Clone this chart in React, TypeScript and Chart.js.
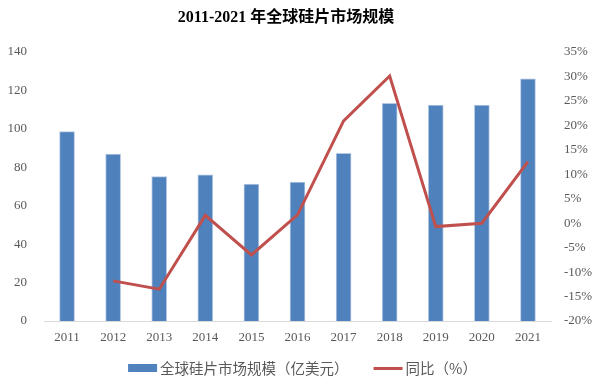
import React, { useEffect, useRef } from "react";
import { Chart, registerables } from "chart.js";

Chart.register(...registerables);

const categories = ["2011", "2012", "2013", "2014", "2015", "2016", "2017", "2018", "2019", "2020", "2021"];
const marketSize = [98.6, 86.9, 75.1, 76.1, 71.3, 72.3, 87.3, 113.3, 112.4, 112.4, 126.1];
const yoyGrowth = [null, -11.8, -13.5, 1.6, -6.5, 1.7, 20.9, 30.1, -0.7, 0.0, 12.6];
const barLabel = "全球硅片市场规模（亿美元）";
const lineLabel = "同比（%）";
const titleText = "2011-2021 年全球硅片市场规模";

const SERIF = "'Liberation Serif', 'Times New Roman', 'Noto Sans CJK SC', serif";
const SANS = "'Noto Sans CJK SC', 'Noto Sans', sans-serif";
const GRAY = "#595959";
const BLUE = "#4f81bd";
const RED = "#c0504d";

// Title (slightly left of centre, as in the source) and bottom legend
const chartDecor = {
  id: "chartDecor",
  afterDraw(chart: any) {
    const ctx = chart.ctx as CanvasRenderingContext2D;
    ctx.save();
    // title
    ctx.font = `bold 16px ${SERIF}`;
    ctx.fillStyle = "#000";
    ctx.textAlign = "center";
    ctx.textBaseline = "middle";
    ctx.fillText(titleText, (chart.width - 33) / 2, 17.5);

    // legend
    const items = [
      { text: barLabel, kind: "rect", color: BLUE },
      { text: lineLabel, kind: "line", color: RED },
    ];
    const symW = 29;
    const symGap = 3;
    const itemGap = 25;
    ctx.font = `14.5px ${SANS}`;
    const widths = items.map((it) => ctx.measureText(it.text).width);
    const total =
      widths.reduce((a, w) => a + symW + symGap + w, 0) + itemGap * (items.length - 1);
    let x = chart.width / 2 - total / 2;
    const y = chart.chartArea.bottom + 47;
    items.forEach((it, i) => {
      if (it.kind === "rect") {
        ctx.fillStyle = it.color;
        ctx.fillRect(x, y - 4, symW, 8);
      } else {
        ctx.strokeStyle = it.color;
        ctx.lineWidth = 3;
        ctx.lineCap = "butt";
        ctx.beginPath();
        ctx.moveTo(x, y + 0.5);
        ctx.lineTo(x + symW, y + 0.5);
        ctx.stroke();
      }
      x += symW + symGap;
      ctx.fillStyle = GRAY;
      ctx.textAlign = "left";
      ctx.textBaseline = "middle";
      ctx.fillText(it.text, x, y);
      x += widths[i] + itemGap;
    });
    ctx.restore();
  },
};

export default function App() {
  const ref = useRef<HTMLCanvasElement | null>(null);

  useEffect(() => {
    if (!ref.current) return;
    const chart = new Chart(ref.current, {
      data: {
        labels: categories,
        datasets: [
          {
            type: "line",
            label: lineLabel,
            data: yoyGrowth as any,
            yAxisID: "y1",
            borderColor: RED,
            backgroundColor: RED,
            borderWidth: 3,
            pointRadius: 0,
            tension: 0,
            spanGaps: false,
            order: 0,
          },
          {
            type: "bar",
            label: barLabel,
            data: marketSize,
            yAxisID: "y",
            backgroundColor: BLUE,
            borderColor: "#b4c8e4",
            borderWidth: 1,
            borderSkipped: "bottom",
            barThickness: 15,
            order: 1,
          },
        ],
      },
      plugins: [chartDecor],
      options: {
        animation: false,
        responsive: false,
        maintainAspectRatio: false,
        layout: { padding: { left: 0, right: 0, top: 52, bottom: 36 } },
        plugins: {
          tooltip: { enabled: false },
          legend: { display: false },
          title: { display: false },
        },
        scales: {
          x: {
            offset: true,
            grid: { display: false, drawTicks: false },
            border: { display: true, color: "#d9d9d9", width: 1 },
            ticks: {
              color: GRAY,
              font: { family: SERIF, size: 13 },
              padding: 9,
              maxRotation: 0,
              autoSkip: false,
            },
            afterFit: (s: any) => {
              s.height = 29;
            },
          },
          y: {
            position: "left",
            min: 0,
            max: 140,
            grid: { display: false, drawTicks: false },
            border: { display: false },
            ticks: {
              stepSize: 20,
              color: GRAY,
              font: { family: SERIF, size: 13 },
              padding: 17,
            },
            afterFit: (s: any) => {
              s.width = 44;
            },
          },
          y1: {
            position: "right",
            min: -20,
            max: 35,
            grid: { display: false, drawTicks: false },
            border: { display: false },
            ticks: {
              stepSize: 5,
              color: GRAY,
              font: { family: SERIF, size: 13 },
              padding: 13,
              callback: (v: any) => `${v}%`,
            },
            afterFit: (s: any) => {
              s.width = 54;
            },
          },
        },
      },
    } as any);
    return () => chart.destroy();
  }, []);

  return (
    <div style={{ position: "absolute", left: 0, top: 0, width: 605, height: 386, background: "#fff" }}>
      <canvas ref={ref} width={605} height={386} style={{ width: 605, height: 386, display: "block" }} />
    </div>
  );
}
